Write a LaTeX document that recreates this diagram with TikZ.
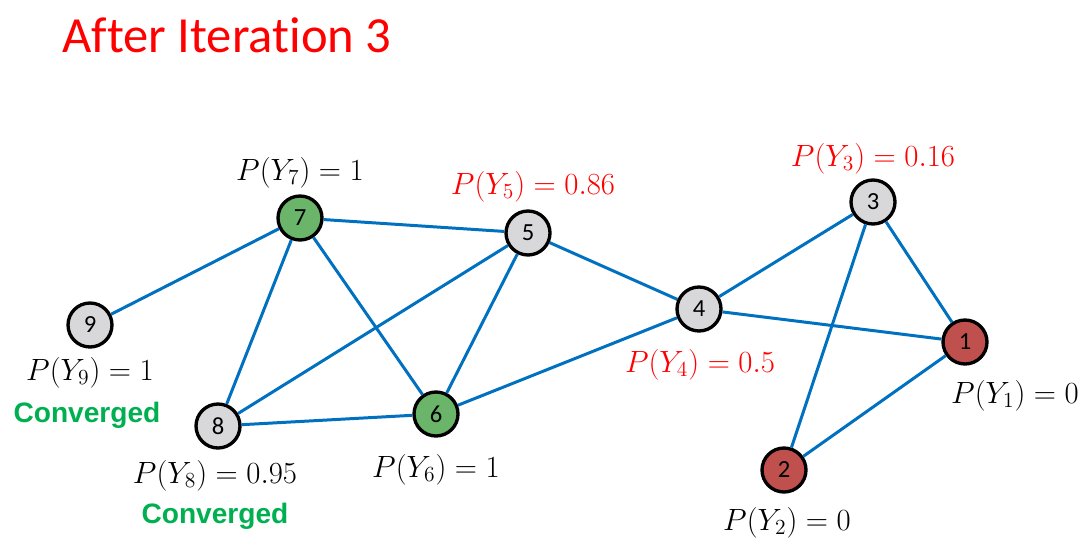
\RequirePackage{fix-cm}
\documentclass[tikz,border=0pt]{standalone}
\usepackage{fontspec}
\newfontfamily\calib[Ligatures=NoCommon]{Carlito}
\newfontfamily\arialf{Liberation Sans}

\definecolor{edgeblue}{RGB}{0,112,192}
\definecolor{nodegreen}{RGB}{106,181,106}
\definecolor{nodered}{RGB}{192,80,77}
\definecolor{nodegray}{RGB}{216,216,219}
\definecolor{convgreen}{RGB}{0,176,80}

\begin{document}
\begin{tikzpicture}[x=0.02cm,y=-0.02cm,
    vertex/.style={circle,draw=black,line width=1.9pt,minimum size=0.88cm,inner sep=0pt,font=\calib\fontsize{14}{16}\selectfont},
    link/.style={edgeblue,line width=1.7pt},
    problabel/.style={anchor=base,font=\fontsize{17.5}{20}\selectfont},
    conv/.style={anchor=base,text=convgreen,font=\arialf\bfseries\fontsize{16}{18}\selectfont}]

    % cadre
    \useasboundingbox (0,0) rectangle (1087,554);

    % titre
    \node[anchor=base west,text=red,font=\calib\fontsize{28.8}{32}\selectfont,inner sep=0pt] (titre) at (62,52) {After Iteration 3};

    % sommets
    \node[vertex,fill=nodered] (n1) at (965,342) {1};
    \node[vertex,fill=nodered] (n2) at (784,470) {2};
    \node[vertex,fill=nodegray] (n3) at (873,202) {3};
    \node[vertex,fill=nodegray] (n4) at (699,309) {4};
    \node[vertex,fill=nodegray] (n5) at (528,233) {5};
    \node[vertex,fill=nodegreen] (n6) at (436,414) {6};
    \node[vertex,fill=nodegreen] (n7) at (300,218) {7};
    \node[vertex,fill=nodegray] (n8) at (218,426) {8};
    \node[vertex,fill=nodegray] (n9) at (90,325) {9};

    % aretes
    \draw[link] (n7) -- (n5);
    \draw[link] (n7) -- (n9);
    \draw[link] (n7) -- (n8);
    \draw[link] (n7) -- (n6);
    \draw[link] (n5) -- (n8);
    \draw[link] (n5) -- (n6);
    \draw[link] (n5) -- (n4);
    \draw[link] (n8) -- (n6);
    \draw[link] (n6) -- (n4);
    \draw[link] (n4) -- (n3);
    \draw[link] (n4) -- (n1);
    \draw[link] (n3) -- (n1);
    \draw[link] (n3) -- (n2);
    \draw[link] (n1) -- (n2);

    % probabilites
    \node[problabel] (p7) at (300,180) {$P(Y_7) = 1$};
    \node[problabel,text=red] (p5) at (533,194) {$P(Y_5) = 0.86$};
    \node[problabel,text=red] (p3) at (873,166) {$P(Y_3) = 0.16$};
    \node[problabel] (p9) at (90,380) {$P(Y_9) = 1$};
    \node[problabel] (p8) at (215,483) {$P(Y_8) = 0.95$};
    \node[problabel] (p6) at (436,477) {$P(Y_6) = 1$};
    \node[problabel,text=red] (p4) at (700,372) {$P(Y_4) = 0.5$};
    \node[problabel] (p1) at (1015,403) {$P(Y_1) = 0$};
    \node[problabel] (p2) at (787,530) {$P(Y_2) = 0$};

    % converge
    \node[conv] (c9) at (87,422) {Converged};
    \node[conv] (c8) at (215,523) {Converged};

\end{tikzpicture}
\end{document}
